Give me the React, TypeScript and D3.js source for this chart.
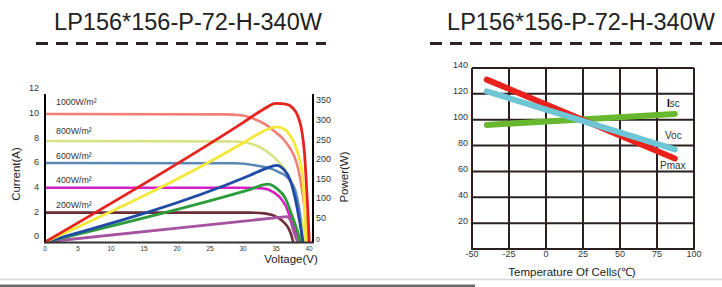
import React from "react";
import * as d3 from "d3";

const TITLE = "LP156*156-P-72-H-340W";

// Left chart: I-V and P-V curves
const voltageTicks = [0, 5, 10, 15, 20, 25, 30, 35, 40];
const currentTicks = [0, 2, 4, 6, 8, 10, 12];
const powerTicks = [0, 50, 100, 150, 200, 250, 300, 350];
const irradianceLabels = ["1000W/m²", "800W/m²", "600W/m²", "400W/m²", "200W/m²"];
const irradianceLabelCurrent = [11.3, 8.95, 6.95, 4.95, 2.95];

const iv1000: [number, number][] = [[0, 10.38], [27, 10.35], [30, 10.25], [31.8, 9.95], [33.5, 9.5], [34.8, 8.95], [36, 8.4], [37.1, 7.62], [37.8, 6.9], [38.4, 5.84], [38.9, 4.4], [39.3, 2.8], [39.6, 1.3], [39.8, 0]];
const iv800: [number, number][] = [[0, 8.19], [29, 8.15], [31.8, 7.87], [33, 7.55], [34.3, 7.06], [35.4, 6.5], [36.4, 5.84], [37.3, 4.9], [38, 3.8], [38.6, 2.5], [39.1, 1.1], [39.4, 0]];
const iv600: [number, number][] = [[0, 6.41], [29, 6.38], [32, 6.2], [34.1, 5.97], [35.5, 5.65], [36.6, 5.3], [37.3, 4.85], [37.9, 4.2], [38.3, 3.3], [38.6, 2.33], [38.8, 1.1], [38.95, 0]];
const iv400: [number, number][] = [[0, 4.4], [30, 4.4], [33, 4.35], [34.8, 3.97], [35.7, 3.55], [36.4, 3.0], [37.4, 1.65], [38.1, 0.75], [38.7, 0]];
const iv200: [number, number][] = [[0, 2.38], [31, 2.38], [33.5, 2.3], [35.3, 1.97], [36.2, 1.6], [36.9, 1.11], [37.3, 0.6], [37.6, 0]];

const pv1000: [number, number][] = [[0, 0], [30, 305], [33, 338], [35, 354], [36.5, 352], [37.5, 343], [38.3, 322], [38.9, 285], [39.3, 230], [39.6, 150], [39.85, 70], [40.05, 0]];
const pv800: [number, number][] = [[0, 0], [30, 253], [32.5, 278], [34, 290], [35.2, 294], [36.3, 288], [37.1, 273], [37.9, 248], [38.5, 215], [38.9, 184], [39.2, 130], [39.4, 60], [39.55, 0]];
const pv600: [number, number][] = [[0, 0], [31, 170], [33.5, 188], [35.1, 196], [36.2, 185], [37.1, 160], [37.9, 112], [38.5, 60], [39.1, 0]];
const pv400: [number, number][] = [[0, 0], [31, 134], [33.8, 148], [35.1, 137], [36.4, 112], [37.4, 69], [38.2, 30], [38.7, 0]];
const pv200: [number, number][] = [[0, 0], [35.5, 63], [36.6, 65], [37.2, 55], [37.6, 32], [38, 12], [38.3, 0]];

const ivSeries = [
  { data: iv1000, color: "#f08079" },
  { data: iv800, color: "#d8e283" },
  { data: iv600, color: "#5d88b6" },
  { data: iv400, color: "#d620c6" },
  { data: iv200, color: "#6c2d38" },
];
const pvSeries = [
  { data: pv200, color: "#a653a2" },
  { data: pv400, color: "#2c9c3b" },
  { data: pv600, color: "#1f4ba6" },
  { data: pv800, color: "#f4e83a" },
  { data: pv1000, color: "#e8231e" },
];

// Right chart: temperature coefficients
const tempTicks = [-50, -25, 0, 25, 50, 75, 100];
const percentTicks = [20, 40, 60, 80, 100, 120, 140];
const pmaxLine: [number, number][] = [[-40, 131], [87, 70]];
const vocLine: [number, number][] = [[-40, 122], [87, 77]];
const iscLine: [number, number][] = [[-40, 96], [87, 104.5]];

const FONT = "'Liberation Sans', Arial, sans-serif";

function Dashes({ x0, x1, y }: { x0: number; x1: number; y: number }) {
  return (
    <line x1={x0} x2={x1} y1={y} y2={y} stroke="#2b2323" strokeWidth={3} strokeDasharray="12 8" />
  );
}

export default function App() {
  // left scales
  const xV = d3.scaleLinear().domain([0, 40]).range([45, 309]);
  const yI = d3.scaleLinear().domain([0, 12]).range([242, 94]);
  const yP = d3.scaleLinear().domain([0, 350]).range([242, 105]);
  const ivLine = d3.line<[number, number]>().x((d) => xV(d[0])).y((d) => yI(d[1])).curve(d3.curveMonotoneX);
  const pvLine = d3.line<[number, number]>().x((d) => xV(d[0])).y((d) => yP(d[1])).curve(d3.curveMonotoneX);

  // right scales
  const xT = d3.scaleLinear().domain([-50, 100]).range([472, 694]);
  const yR = d3.scaleLinear().domain([0, 140]).range([249, 68]);
  const tLine = d3.line<[number, number]>().x((d) => xT(d[0])).y((d) => yR(d[1]));

  return (
    <svg
      width={722}
      height={287}
      style={{ position: "fixed", left: 0, top: 0, background: "#fff" }}
      fontFamily={FONT}
    >
      <rect x={0} y={0} width={722} height={287} fill="#fff" />
      {/* Titles */}
      <text x={188} y={30} textAnchor="middle" fontSize={23.5} fill="#222">{TITLE}</text>
      <Dashes x0={36} x1={326} y={43.5} />
      <text x={581} y={30} textAnchor="middle" fontSize={23.5} fill="#222">{TITLE}</text>
      <Dashes x0={430} x1={730} y={43.5} />

      {/* ===== Left chart ===== */}
      <g>
        {ivSeries.map((s, i) => (
          <path key={"iv" + i} d={ivLine(s.data) || ""} fill="none" stroke={s.color} strokeWidth={2.6} />
        ))}
        {pvSeries.map((s, i) => (
          <path key={"pv" + i} d={pvLine(s.data) || ""} fill="none" stroke={s.color} strokeWidth={2.8} />
        ))}
        {/* axes */}
        <line x1={45} x2={45} y1={94} y2={243} stroke="#000" strokeWidth={2} />
        <line x1={313} x2={313} y1={94} y2={243} stroke="#000" strokeWidth={2} />
        <line x1={44} x2={314} y1={242.5} y2={242.5} stroke="#333" strokeWidth={2} />
        {currentTicks.map((t) => (
          <text key={"ct" + t} x={39} y={yI(t) - 5} textAnchor="end" dominantBaseline="middle" fontSize={9} fill="#333">{t}</text>
        ))}
        {powerTicks.map((t) => (
          <text key={"pt" + t} x={316} y={yP(t) - (t === 0 ? 2 : 4)} dominantBaseline="middle" fontSize={t === 0 ? 7 : 9} fill="#333">{t}</text>
        ))}
        {voltageTicks.map((t) => (
          <text key={"vt" + t} x={xV(t)} y={249} textAnchor="middle" dominantBaseline="middle" fontSize={6.5} fill="#333">{t}</text>
        ))}
        {irradianceLabels.map((l, i) => (
          <text key={"ir" + i} x={56} y={yI(irradianceLabelCurrent[i])} dominantBaseline="middle" fontSize={8.8} fill="#333">{l}</text>
        ))}
        <text transform="translate(17,174) rotate(-90)" textAnchor="middle" dominantBaseline="middle" fontSize={11.5} fill="#222">Current(A)</text>
        <text transform="translate(345,177) rotate(-90)" textAnchor="middle" dominantBaseline="middle" fontSize={11.5} fill="#222">Power(W)</text>
        <text x={291} y={260} textAnchor="middle" dominantBaseline="middle" fontSize={11.5} fill="#222">Voltage(V)</text>
      </g>

      {/* ===== Right chart ===== */}
      <g>
        {percentTicks.map((t) => (
          <line key={"hg" + t} x1={xT(-50)} x2={xT(100)} y1={yR(t)} y2={yR(t)} stroke="#2b2020" strokeWidth={2} />
        ))}
        {tempTicks.map((t) => (
          <line key={"vg" + t} x1={xT(t)} x2={xT(t)} y1={yR(0)} y2={yR(140)} stroke="#2b2020" strokeWidth={2} />
        ))}
        <line x1={xT(-50) - 1} x2={xT(100) + 1} y1={yR(0)} y2={yR(0)} stroke="#2b2020" strokeWidth={2} />
        <path d={tLine(iscLine) || ""} stroke="#68b82f" strokeWidth={6} strokeLinecap="round" fill="none" />
        <path d={tLine(pmaxLine) || ""} stroke="#e8231e" strokeWidth={6} strokeLinecap="round" fill="none" />
        <path d={tLine(vocLine) || ""} stroke="#6ec6d4" strokeWidth={6} strokeLinecap="round" fill="none" />
        {percentTicks.map((t) => (
          <text key={"pl" + t} x={468} y={yR(t) - 2} textAnchor="end" dominantBaseline="middle" fontSize={9} fill="#333">{t}</text>
        ))}
        {tempTicks.map((t) => (
          <text key={"tl" + t} x={xT(t)} y={255} textAnchor="middle" dominantBaseline="middle" fontSize={9} fill="#333">{t}</text>
        ))}
        <text x={667} y={104} dominantBaseline="middle" fontSize={10} fill="#333"><tspan fontWeight="bold" fill="#000">I</tspan>sc</text>
        <text x={665} y={136} dominantBaseline="middle" fontSize={10} fill="#333">Voc</text>
        <text x={660} y={166} dominantBaseline="middle" fontSize={10} fill="#333">Pmax</text>
        <text x={572} y={273} textAnchor="middle" dominantBaseline="middle" fontSize={11.5} fill="#222">Temperature Of Cells(℃)</text>
      </g>

      {/* bottom separators */}
      <line x1={0} x2={722} y1={279.5} y2={279.5} stroke="#d8d8d8" strokeWidth={1.5} />
      <rect x={0} y={284.5} width={475} height={3} fill="#6a6a6a" />
    </svg>
  );
}
